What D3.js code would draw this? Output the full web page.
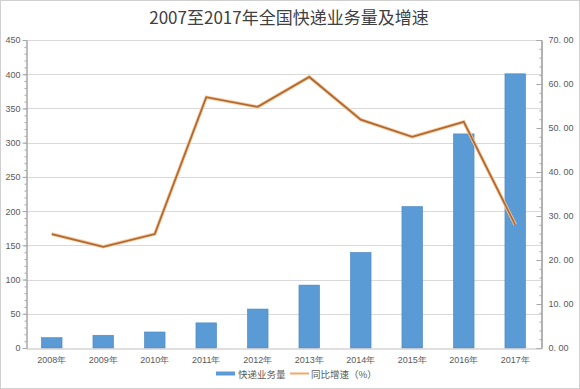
<!DOCTYPE html>
<html>
<head>
<meta charset="utf-8">
<script src="https://cdn.jsdelivr.net/npm/d3@7"></script>
<style>
  body { margin: 0; background: #fff; }
  svg { display: block; font-family: "Noto Sans CJK SC", "DejaVu Sans", sans-serif; }
  .grid line { stroke: #d9d9d9; }
  .tick text { fill: #595959; font-size: 9px; }
</style>
</head>
<body>
<svg id="chart"></svg>
<script>
// 数据
const years = ['2008年', '2009年', '2010年', '2011年', '2012年', '2013年', '2014年', '2015年', '2016年', '2017年'];
const volume = [15.1, 18.6, 23.4, 36.7, 56.9, 91.9, 139.6, 206.7, 312.8, 400.6];
const growth = [25.9, 23.0, 25.9, 57.0, 54.8, 61.6, 51.9, 48.0, 51.4, 28.0];
const leftTicks = [0, 50, 100, 150, 200, 250, 300, 350, 400, 450];
const rightTicks = [0, 10, 20, 30, 40, 50, 60, 70];

const width = 580, height = 389;
const margin = { top: 40, right: 39, bottom: 41, left: 26 };

const svg = d3.select('#chart')
    .attr('width', width)
    .attr('height', height);

// 外框
svg.append('rect')
    .attr('x', 0.5).attr('y', 0.5)
    .attr('width', width - 1).attr('height', height - 1)
    .attr('fill', '#fff')
    .attr('stroke', '#d0d0d0');

const x = d3.scaleBand()
    .domain(years)
    .range([margin.left, width - margin.right])
    .paddingInner(0.6)
    .paddingOuter(0.3);

const yL = d3.scaleLinear().domain([0, 450]).range([height - margin.bottom, margin.top]);
const yR = d3.scaleLinear().domain([0, 70]).range([height - margin.bottom, margin.top]);

// 网格线
svg.append('g')
    .attr('class', 'grid')
    .selectAll('line')
    .data(leftTicks.slice(1))
    .join('line')
    .attr('x1', margin.left)
    .attr('x2', width - margin.right)
    .attr('y1', d => Math.round(yL(d)) + 0.5)
    .attr('y2', d => Math.round(yL(d)) + 0.5);

// 柱子
svg.append('g')
    .selectAll('rect')
    .data(volume)
    .join('rect')
    .attr('x', (d, i) => x(years[i]))
    .attr('y', d => yL(d))
    .attr('width', x.bandwidth())
    .attr('height', d => yL(0) - yL(d))
    .attr('fill', '#5b9bd5')
    .attr('stroke', '#4a86c0')
    .attr('stroke-width', 0.6);

// 折线
const line = d3.line()
    .x((d, i) => x(years[i]) + x.bandwidth() / 2)
    .y(d => yR(d));

svg.append('path')
    .datum(growth)
    .attr('d', line)
    .attr('fill', 'none')
    .attr('stroke', '#f7c99c')
    .attr('stroke-width', 3.5)
    .attr('stroke-linejoin', 'miter');

svg.append('path')
    .datum(growth)
    .attr('d', line)
    .attr('fill', 'none')
    .attr('stroke', '#b06a33')
    .attr('stroke-width', 1.8);

// 左轴
const minorL = d3.range(0, 451, 10);
svg.append('g')
    .attr('transform', `translate(${margin.left + 0.5},0)`)
    .call(d3.axisLeft(yL).tickValues(minorL).tickSize(2).tickFormat(''))
    .call(g => g.selectAll('line, path').attr('stroke', '#a6a6a6'));

svg.append('g')
    .attr('transform', `translate(${margin.left + 0.5},0)`)
    .call(d3.axisLeft(yL).tickValues(leftTicks).tickSize(4).tickSizeOuter(0).tickPadding(2))
    .call(g => g.select('.domain').attr('stroke', '#a6a6a6'))
    .call(g => g.selectAll('.tick line').attr('stroke', '#a6a6a6'));

// 右轴
const minorR = d3.range(0, 70.1, 2);
svg.append('g')
    .attr('transform', `translate(${width - margin.right + 0.5},0)`)
    .call(d3.axisLeft(yR).tickValues(minorR).tickSize(2).tickFormat(''))
    .call(g => g.selectAll('line, path').attr('stroke', '#a6a6a6'));

const rAxis = svg.append('g')
    .attr('transform', `translate(${width - margin.right + 0.5},0)`)
    .call(d3.axisRight(yR).tickValues(rightTicks).tickSize(0).tickSizeOuter(0).tickPadding(7)
        .tickFormat(d => d3.format('.2f')(d).replace('.', '. ')));
rAxis.select('.domain').attr('stroke', '#a6a6a6');
svg.append('g')
    .attr('transform', `translate(${width - margin.right + 0.5},0)`)
    .call(d3.axisLeft(yR).tickValues(rightTicks).tickSize(5).tickFormat(''))
    .call(g => g.selectAll('line, path').attr('stroke', '#a6a6a6'));

// X轴
svg.append('g')
    .attr('transform', `translate(0,${height - margin.bottom + 0.5})`)
    .call(d3.axisBottom(x).tickSize(0).tickPadding(8))
    .call(g => g.select('.domain').attr('stroke', '#bfbfbf'));

// 标题
svg.append('text')
    .attr('x', 289)
    .attr('y', 24)
    .attr('text-anchor', 'middle')
    .attr('fill', '#404040')
    .attr('font-size', 17)
    .text('2007至2017年全国快递业务量及增速');

// 图例
const legend = svg.append('g').attr('transform', `translate(0,${height - 15})`);
legend.append('rect')
    .attr('x', 216).attr('y', -2.5)
    .attr('width', 19).attr('height', 4)
    .attr('fill', '#5b9bd5');
legend.append('text')
    .attr('x', 238).attr('y', 3.5)
    .attr('font-size', 9.5).attr('fill', '#595959')
    .text('快递业务量');
legend.append('line')
    .attr('x1', 290).attr('x2', 309)
    .attr('y1', -0.5).attr('y2', -0.5)
    .attr('stroke', '#f0a868').attr('stroke-width', 2);
legend.append('text')
    .attr('x', 311).attr('y', 3.5)
    .attr('font-size', 9.5).attr('fill', '#595959')
    .text('同比增速（%）');
</script>
</body>
</html>
